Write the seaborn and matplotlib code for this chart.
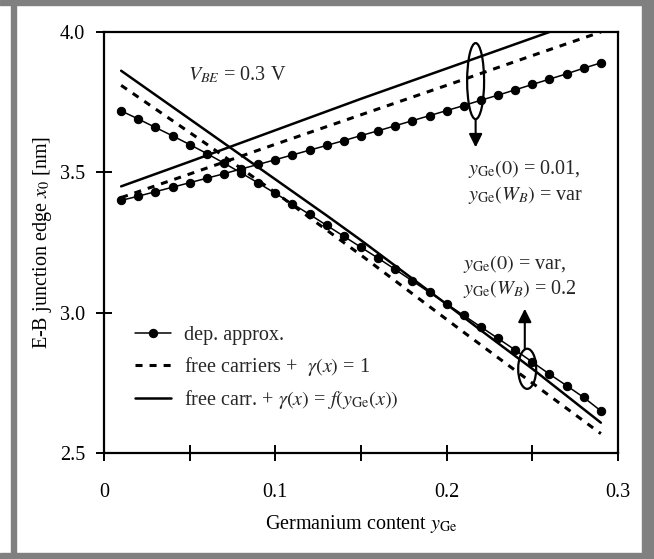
import numpy as np
import pandas as pd
import matplotlib
matplotlib.use("Agg")
import matplotlib.pyplot as plt
from matplotlib.patches import Ellipse, Rectangle
import seaborn as sns

# ---------------- data ----------------
x_dots = [0.01, 0.02, 0.03, 0.04, 0.05, 0.06, 0.07, 0.08, 0.09, 0.10,
          0.11, 0.12, 0.13, 0.14, 0.15, 0.16, 0.17, 0.18, 0.19, 0.20,
          0.21, 0.22, 0.23, 0.24, 0.25, 0.26, 0.27, 0.28, 0.29]

# yGe(0)=0.01, yGe(WB)=var  (rising curves)
rise_dep = [3.400, 3.415, 3.431, 3.447, 3.463, 3.479, 3.495, 3.512, 3.528, 3.545,
            3.562, 3.579, 3.596, 3.613, 3.631, 3.648, 3.666, 3.684, 3.702, 3.720,
            3.738, 3.757, 3.775, 3.794, 3.813, 3.832, 3.851, 3.871, 3.890]
x_rise_free = [0.01, 0.05, 0.10, 0.15, 0.20, 0.25, 0.29]
rise_free = [3.410, 3.494, 3.600, 3.705, 3.810, 3.916, 4.000]
x_rise_carr = [0.01, 0.05, 0.10, 0.15, 0.20, 0.26]
rise_carr = [3.450, 3.538, 3.650, 3.762, 3.870, 4.000]

# yGe(0)=var, yGe(WB)=0.2  (falling curves)
fall_dep = [3.719, 3.690, 3.660, 3.630, 3.599, 3.567, 3.533, 3.498, 3.462, 3.425,
            3.388, 3.350, 3.311, 3.272, 3.233, 3.194, 3.154, 3.113, 3.072, 3.031,
            2.990, 2.949, 2.908, 2.867, 2.824, 2.781, 2.740, 2.698, 2.650]
x_fall_free = [0.01, 0.06, 0.10, 0.15, 0.21, 0.26, 0.29]
fall_free = [3.810, 3.600, 3.428, 3.205, 2.930, 2.704, 2.569]
x_fall_carr = [0.01, 0.07, 0.13, 0.15, 0.20, 0.22, 0.25, 0.29]
fall_carr = [3.862, 3.604, 3.346, 3.258, 3.030, 2.937, 2.800, 2.608]

legend_labels = ["dep. approx.",
                 r"free carriers +  $\gamma(x)$ = 1",
                 r"free carr. + $\gamma(x)$ = $f(y_{\mathrm{Ge}}(x))$"]
x_ticks = [0, 0.1, 0.2, 0.3]
x_tick_labels = ["0", "0.1", "0.2", "0.3"]
y_ticks = [2.5, 3.0, 3.5, 4.0]
y_tick_labels = ["2.5", "3.0", "3.5", "4.0"]

# ---------------- style ----------------
sns.set_theme(style="white")
plt.rcParams["font.family"] = ["Liberation Serif", "DejaVu Serif"]
plt.rcParams["mathtext.fontset"] = "stix"
FS = 14.5

fig = plt.figure(figsize=(6.54, 5.59), dpi=100)
ax = fig.add_axes([104/654, 1-453/559, (618-104)/654, (453-32)/559])

lw_dep, lw_free, lw_carr = 1.1, 2.2, 1.8
ms = 6.0
dash = (0, (2.3, 2.3))

sns.lineplot(x=x_dots, y=rise_dep, ax=ax, color="black", lw=lw_dep, marker="o",
             markersize=ms, markeredgecolor="black", label=legend_labels[0], legend=False)
sns.lineplot(x=x_dots, y=fall_dep, ax=ax, color="black", lw=lw_dep, marker="o",
             markersize=ms, markeredgecolor="black", legend=False)
sns.lineplot(x=x_rise_free, y=rise_free, ax=ax, color="black", lw=lw_free,
             linestyle=dash, label=legend_labels[1], legend=False)
sns.lineplot(x=x_fall_free, y=fall_free, ax=ax, color="black", lw=lw_free,
             linestyle=dash, legend=False)
sns.lineplot(x=x_rise_carr, y=rise_carr, ax=ax, color="black", lw=lw_carr,
             label=legend_labels[2], legend=False)
sns.lineplot(x=x_fall_carr, y=fall_carr, ax=ax, color="black", lw=lw_carr, legend=False)

ax.set_xlim(0, 0.3)
ax.set_ylim(2.5, 4.0)
ax.set_xticks(x_ticks)
ax.set_xticklabels(x_tick_labels)
ax.set_xticks([0.05, 0.15, 0.25], minor=True)
ax.set_yticks(y_ticks)
ax.set_yticklabels(y_tick_labels)
ax.tick_params(axis="both", which="both", direction="inout", length=11, width=1.4,
               color="black", labelsize=FS, labelcolor="black",
               bottom=True, left=True, top=False, right=False)
ax.tick_params(axis="x", which="both", pad=16)
ax.tick_params(axis="y", which="both", pad=8)
for s in ax.spines.values():
    s.set_color("black")
    s.set_linewidth(1.6)
ax.grid(False)

ax.set_xlabel(r"Germanium content $y_{\mathrm{Ge}}$", fontsize=FS, color="black", labelpad=8)
ax.set_ylabel(r"E-B junction edge $x_0$ [nm]", fontsize=FS, color="black", labelpad=4)

# legend
h, l = ax.get_legend_handles_labels()
leg = ax.legend(h, l, loc="upper left", bbox_to_anchor=((135-104)/514, (453-326)/421),
                frameon=False, fontsize=FS, handlelength=1.8, handletextpad=0.65,
                labelspacing=0.5, borderpad=0, borderaxespad=0)

# texts
ax.text(0.049, 3.846, r"$V_{BE}$ = 0.3 V", fontsize=FS, va="center", ha="left")
ax.text(0.2125, 3.512, r"$y_{\mathrm{Ge}}(0)$ = 0.01,", fontsize=FS, va="center", ha="left")
ax.text(0.2125, 3.418, r"$y_{\mathrm{Ge}}(W_B)$ = var", fontsize=FS, va="center", ha="left")
ax.text(0.2096, 3.175, r"$y_{\mathrm{Ge}}(0)$ = var,", fontsize=FS, va="center", ha="left")
ax.text(0.2096, 3.086, r"$y_{\mathrm{Ge}}(W_B)$ = 0.2", fontsize=FS, va="center", ha="left")

# ellipses and arrows
ax.add_patch(Ellipse((0.2169, 3.825), 0.0099, 0.271, fill=False, lw=1.6, ec="black"))
ax.annotate("", xy=(0.2169, 3.589), xytext=(0.2169, 3.825 - 0.1355),
            arrowprops=dict(arrowstyle="-|>", lw=1.5, color="black",
                            mutation_scale=20, shrinkA=0, shrinkB=0))
ax.add_patch(Ellipse((0.247, 2.80), 0.0105, 0.143, fill=False, lw=1.6, ec="black"))
ax.annotate("", xy=(0.2456, 3.014), xytext=(0.2456, 2.80 + 0.0715),
            arrowprops=dict(arrowstyle="-|>", lw=1.5, color="black",
                            mutation_scale=20, shrinkA=0, shrinkB=0))

# grey frame
grey = "#808080"
fig.patches.extend([
    Rectangle((11/654, 0), 5/654, 1, transform=fig.transFigure, color=grey, zorder=0),
    Rectangle((642/654, 0), 12/654, 1, transform=fig.transFigure, color=grey, zorder=0),
    Rectangle((0, 1-5/559), 1, 5/559, transform=fig.transFigure, color=grey, zorder=0),
    Rectangle((0, 0), 1, 6/559, transform=fig.transFigure, color=grey, zorder=0),
])

fig.savefig("out.png", dpi=100, facecolor="white")
